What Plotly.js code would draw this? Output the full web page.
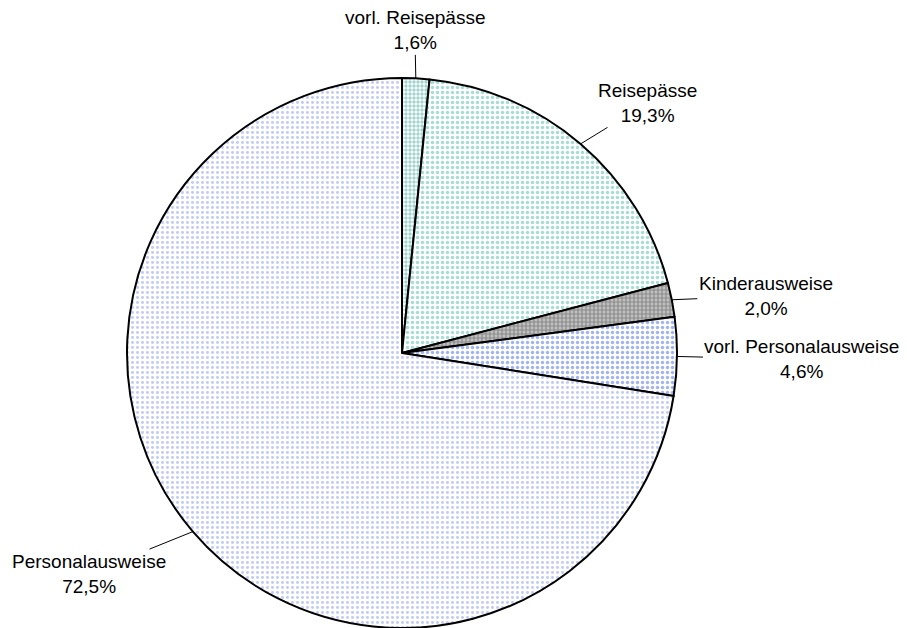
<!DOCTYPE html>
<html>
<head>
<meta charset="utf-8">
<script src="https://cdn.plot.ly/plotly-3.0.1.min.js"></script>
<style>html,body{margin:0;padding:0;background:#fff;}#chart{width:907px;height:628px;}</style>
</head>
<body>
<div id="chart"></div>
<script>
// Data (clockwise from 12 o'clock)
const categories = ["vorl. Reisepässe", "Reisepässe", "Kinderausweise", "vorl. Personalausweise", "Personalausweise"];
const shares = [1.6, 19.3, 2.0, 4.6, 72.5];
const shareLabels = ["1,6%", "19,3%", "2,0%", "4,6%", "72,5%"];

// Styling
const fgColors = ["#3faa9c", "#4fbaab", "#555555", "#3f66ea", "#7f93ee"];
const bgColors = ["#ffffff", "#ffffff", "#c0c0c0", "#ffffff", "#ffffff"];
const shapes = [".", ".", "+", ".", "."];
const psizes = [4, 5, 4, 5, 5];
const solid = [0.55, 0.38, 0.5, 0.35, 0.28];
// label offsets (px) from the slice edge point
const labelOffsets = [[-1, -48], [67, -41], [94, -4], [125, 3], [-104, 42]];

const W = 907, H = 628;
const cx = 402, cy = 353, R = 275;

const total = shares.reduce((a, b) => a + b, 0);
const annotations = [];
let cum = 0;
shares.forEach((v, i) => {
  const mid = (cum + v / 2) / total * 2 * Math.PI;
  cum += v;
  const px = cx + R * Math.sin(mid);
  const py = cy - R * Math.cos(mid);
  annotations.push({
    xref: "paper", yref: "paper",
    x: px / W, y: 1 - py / H,
    text: categories[i] + "<br>" + shareLabels[i],
    showarrow: true, arrowhead: 0, arrowwidth: 1, arrowcolor: "#000",
    standoff: 0, startstandoff: 0,
    ax: labelOffsets[i][0], ay: labelOffsets[i][1],
    font: {family: "Liberation Sans, Arial, sans-serif", size: 19, color: "#000"},
    align: "center"
  });
});

const trace = {
  type: "pie",
  labels: categories,
  values: shares,
  sort: false,
  direction: "clockwise",
  rotation: 0,
  textinfo: "none",
  hoverinfo: "label+percent",
  domain: {x: [(cx - R) / W, (cx + R) / W], y: [1 - (cy + R) / H, 1 - (cy - R) / H]},
  marker: {
    colors: bgColors,
    line: {color: "#000", width: 2},
    pattern: {shape: shapes, fgcolor: fgColors, bgcolor: bgColors, size: psizes, solidity: solid, fillmode: "overlay"}
  }
};

const layout = {
  width: W, height: H,
  margin: {l: 0, r: 0, t: 0, b: 0},
  showlegend: false,
  paper_bgcolor: "#fff",
  annotations: annotations
};

Plotly.newPlot("chart", [trace], layout, {displayModeBar: false, staticPlot: true});
</script>
</body>
</html>
